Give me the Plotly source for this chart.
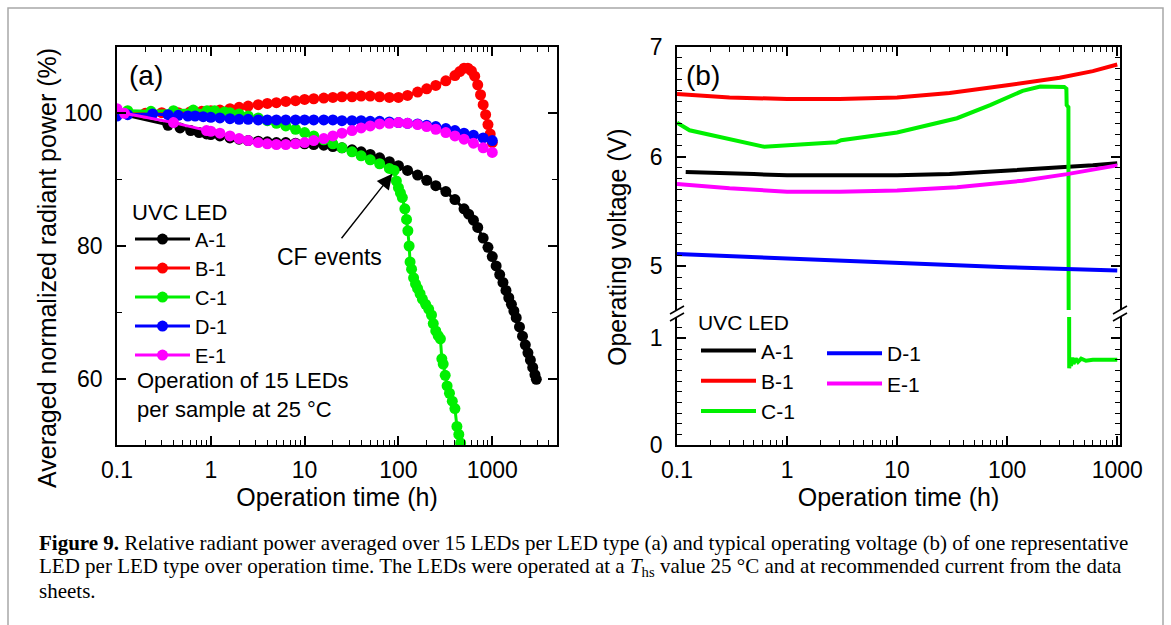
import plotly.graph_objects as go

W, H = 1171, 625
FONT = "Arial, Liberation Sans, sans-serif"
SERIF = "Liberation Serif, Times New Roman, serif"

# ---------------- Panel (a): averaged normalized radiant power (%) ----------------
a_t_A = [0.1, 0.35, 0.47, 0.61, 0.75, 0.9, 1, 1.25, 1.6, 2, 2.5, 3.2, 4, 5, 6.3, 8, 10, 12.5, 16, 20, 25, 32,
         40, 50, 63, 80, 100, 125, 160, 200, 250, 320, 400, 500, 560, 630, 700, 800, 900, 1000, 1100, 1200,
         1300, 1400, 1500, 1600, 1700, 1800, 1950, 2100, 2250, 2400, 2550, 2700, 2850, 2950]
a_v_A = [100.0, 98.2, 97.8, 97.4, 97.1, 96.9, 96.8, 96.6, 96.3, 96.1, 95.9, 95.8, 95.7, 95.6, 95.6, 95.5, 95.4,
         95.3, 95.2, 95.0, 94.8, 94.5, 94.2, 93.8, 93.3, 92.7, 92.1, 91.4, 90.7, 89.9, 89.1, 88.2, 87.0, 85.6,
         84.8, 83.9, 82.8, 81.2, 79.8, 78.4, 77.0, 75.7, 74.5, 73.3, 72.2, 71.2, 70.2, 69.2, 67.8, 66.4, 65.1,
         63.9, 62.8, 61.7, 60.6, 59.9]

a_t_B = [0.1, 0.2, 0.3, 0.45, 0.6, 0.8, 1, 1.25, 1.6, 2, 2.5, 3.2, 4, 5, 6.3, 8, 10, 12.5, 16, 20, 25, 32, 40,
         50, 63, 80, 100, 125, 160, 200, 250, 320, 400, 450, 500, 550, 600, 650, 700, 750, 800, 850, 900,
         950, 1000]
a_v_B = [100.0, 100.0, 100.1, 100.1, 100.2, 100.3, 100.4, 100.5, 100.7, 100.9, 101.1, 101.3, 101.5, 101.6,
         101.8, 101.9, 102.1, 102.2, 102.3, 102.4, 102.5, 102.5, 102.6, 102.6, 102.5, 102.4, 102.4, 102.7,
         103.2, 103.7, 104.2, 104.9, 105.7, 106.3, 106.8, 106.8, 106.4, 105.6, 104.3, 102.8, 101.3, 99.8,
         98.3, 96.9, 95.6]

a_t_C = [0.1, 0.13, 0.23, 0.4, 0.65, 0.91, 1.1, 1.4, 1.6, 2, 2.5, 3.2, 4, 5, 6.3, 8, 10, 12.5, 16, 20, 25, 32,
         40, 50, 63, 80, 90, 95, 100, 105, 110, 117, 122, 126, 130, 133, 138, 145, 152, 160, 170, 180, 195,
         210, 225, 235, 250, 265, 280, 290, 300, 315, 330, 350, 375, 400, 420, 440, 460]
a_v_C = [100.3, 100.4, 100.3, 100.4, 100.5, 100.4, 100.4, 100.2, 100.1, 99.9, 99.6, 99.3, 98.9, 98.5, 98.1,
         97.6, 97.1, 96.6, 96.0, 95.4, 94.8, 94.2, 93.6, 93.0, 92.4, 91.7, 91.4, 89.8, 88.8, 88.0, 87.3, 85.6,
         84.0, 82.3, 80.0, 77.6, 76.5, 75.2, 74.3, 73.6, 72.8, 72.0, 71.2, 70.5, 69.6, 68.3, 67.2, 66.5, 66.0,
         63.0, 62.2, 60.5, 58.9, 57.8, 56.6, 55.5, 52.8, 51.6, 50.3]

a_t_D = [0.1, 0.13, 0.24, 0.35, 0.45, 0.57, 0.68, 0.83, 1, 1.25, 1.6, 2, 2.5, 3.2, 4, 5, 6.3, 8, 10, 12.5,
         16, 20, 25, 32, 40, 50, 63, 80, 100, 125, 160, 200, 250, 320, 400, 500, 630, 800, 1000]
a_v_D = [99.6, 99.8, 99.9, 99.8, 99.7, 99.6, 99.6, 99.5, 99.4, 99.3, 99.2, 99.1, 99.1, 99.0, 99.0, 99.0,
         99.0, 99.0, 99.0, 99.0, 99.0, 99.0, 98.9, 98.9, 98.9, 98.8, 98.8, 98.7, 98.6, 98.5, 98.4, 98.2, 98.0,
         97.7, 97.4, 97.0, 96.7, 96.3, 95.9]

a_t_E = [0.1, 0.12, 0.4, 0.9, 1, 1.25, 1.6, 2, 2.5, 3.2, 4, 5, 6.3, 8, 10, 12.5, 16, 20, 25, 32, 40, 50, 63,
         80, 100, 125, 160, 200, 250, 320, 400, 500, 630, 800, 1000]
a_v_E = [100.7, 100.0, 98.6, 97.4, 97.3, 97.0, 96.6, 96.2, 95.9, 95.6, 95.4, 95.3, 95.3, 95.4, 95.6, 95.9,
         96.2, 96.6, 97.0, 97.4, 97.8, 98.1, 98.4, 98.5, 98.6, 98.5, 98.3, 98.0, 97.6, 97.1, 96.6, 96.1, 95.5,
         94.8, 94.1]

# ---------------- Panel (b): operating voltage (V) ----------------
b_t_A = [0.12, 0.2, 0.5, 1, 3, 10, 30, 70, 150, 350, 600, 1000]
b_v_A = [5.86, 5.85, 5.84, 5.83, 5.83, 5.83, 5.84, 5.86, 5.88, 5.90, 5.92, 5.94]

b_t_B = [0.1, 0.3, 1, 3, 10, 30, 100, 300, 600, 1000]
b_v_B = [6.57, 6.54, 6.525, 6.525, 6.54, 6.58, 6.65, 6.72, 6.78, 6.84]

b_t_C = [0.1, 0.116, 0.13, 0.62, 2.8, 3.1, 10, 35, 70, 138, 200, 330, 345, 347, 360, 366, 372, 380, 390,
         400, 420, 440, 470, 520, 600, 1000]
b_v_C = [6.31, 6.27, 6.24, 6.09, 6.13, 6.15, 6.22, 6.35, 6.47, 6.60, 6.64, 6.635, 6.62, 6.47, 6.45, 0.72,
         0.80, 0.74, 0.82, 0.76, 0.81, 0.78, 0.81, 0.79, 0.80, 0.80]

b_t_D = [0.1, 1, 10, 100, 1000]
b_v_D = [5.11, 5.07, 5.03, 4.99, 4.96]

b_t_E = [0.1, 0.3, 1, 3, 10, 35, 138, 350, 1000]
b_v_E = [5.75, 5.71, 5.68, 5.68, 5.69, 5.72, 5.78, 5.84, 5.92]

names = ["A-1", "B-1", "C-1", "D-1", "E-1"]
colors = ["#000000", "#ff0000", "#00f000", "#0000ff", "#ff00ff"]

caption_lines = [
    "<b>Figure 9.</b> Relative radiant power averaged over 15 LEDs per LED type (a) and typical "
    "operating voltage (b) of one representative",
    "LED per LED type over operation time. The LEDs were operated at a <i>T</i><sub>hs</sub> value "
    "25 °C and at recommended current from the data",
    "sheets.",
]


# ---------------- geometry (pixels -> paper) ----------------
def px(x):
    return x / W


def py(y):
    return 1 - y / H


fig = go.Figure()

a_series = [(a_t_A, a_v_A), (a_t_B, a_v_B), (a_t_C, a_v_C), (a_t_D, a_v_D), (a_t_E, a_v_E)]
for (t, v), n, c in zip(a_series, names, colors):
    fig.add_trace(go.Scatter(x=t, y=v, name=n, mode="lines+markers",
                             line=dict(color=c, width=3), marker=dict(color=c, size=11),
                             xaxis="x", yaxis="y", legend="legend"))

b_series = [(b_t_A, b_v_A), (b_t_B, b_v_B), (b_t_C, b_v_C), (b_t_D, b_v_D), (b_t_E, b_v_E)]
for i, ((t, v), n, c) in enumerate(zip(b_series, names, colors)):
    fig.add_trace(go.Scatter(x=t, y=v, name=n, mode="lines", line=dict(color=c, width=4),
                             xaxis="x3", yaxis="y3", legend="legend2" if i < 3 else "legend3"))
# lower segment of the broken axis (only C-1 reaches it)
fig.add_trace(go.Scatter(x=b_t_C, y=b_v_C, name="C-1", mode="lines", line=dict(color=colors[2], width=4),
                         xaxis="x2", yaxis="y2", showlegend=False))

tickfont = dict(family=FONT, size=23, color="black")
minor_log = dict(ticks="inside", ticklen=5, tickwidth=1.2, tickcolor="black", dtick="D1", showgrid=False)
common_x = dict(type="log", showline=True, linecolor="black", linewidth=1.8, ticks="inside", ticklen=9,
                tickwidth=1.5, tickcolor="black", dtick=1, exponentformat="none", showgrid=False,
                zeroline=False, tickfont=tickfont, ticklabelstandoff=3, automargin=False, minor=minor_log)
common_y = dict(showline=True, linecolor="black", linewidth=1.8, ticks="inside", ticklen=9, tickwidth=1.5,
                tickcolor="black", showgrid=False, zeroline=False, tickfont=tickfont, ticklabelstandoff=8,
                mirror="ticks", automargin=False)


def minor_lin(d):
    return dict(ticks="inside", ticklen=5, tickwidth=1.2, tickcolor="black", dtick=d, showgrid=False)


xtitle = dict(text="Operation time (h)", font=dict(family=FONT, size=25), standoff=2)
legfont_a = dict(family=FONT, size=20)
legfont_b = dict(family=FONT, size=21)

fig.update_layout(
    width=W, height=H, margin=dict(l=0, r=0, t=0, b=0, autoexpand=False),
    paper_bgcolor="white", plot_bgcolor="white", template="none",
    font=dict(family=FONT, color="black"),
    xaxis=dict(common_x, domain=[px(117), px(557)], range=[-1, 3.69], anchor="y", mirror="ticks",
               title=xtitle),
    yaxis=dict(common_y, domain=[py(445), py(47)], range=[50, 110], tick0=0, dtick=20, anchor="x",
               minor=minor_lin(10)),
    xaxis2=dict(common_x, domain=[px(677), px(1120)], range=[-1, 3.025], anchor="y2", side="bottom",
                title=xtitle),
    xaxis3=dict(common_x, domain=[px(677), px(1120)], range=[-1, 3.025], anchor="y3", side="top",
                matches="x2", showticklabels=False),
    yaxis2=dict(common_y, domain=[py(445), py(317)], range=[0, 1.2], tick0=0, dtick=1, anchor="x2",
                minor=minor_lin(0.1)),
    yaxis3=dict(common_y, domain=[py(310), py(47)], range=[4.6, 7], tick0=0, dtick=1, anchor="x3",
                minor=minor_lin(0.1)),
    legend=dict(x=px(130), y=py(191), xanchor="left", yanchor="top", bgcolor="rgba(0,0,0,0)",
                title=dict(text="UVC LED", font=dict(family=FONT, size=22)), font=legfont_a, itemwidth=55,
                traceorder="normal"),
    legend2=dict(x=px(696), y=py(303), xanchor="left", yanchor="top", bgcolor="rgba(0,0,0,0)",
                 title=dict(text="UVC LED", font=legfont_b), font=legfont_b, itemwidth=55,
                 traceorder="normal"),
    legend3=dict(x=px(822), y=py(333), xanchor="left", yanchor="top", bgcolor="rgba(0,0,0,0)",
                 font=legfont_b, itemwidth=55, traceorder="normal"),
)

C = dict(xref="paper", yref="paper", xanchor="center", yanchor="middle", showarrow=False)
ann = []
ann.append(dict(C, text="(a)", x=px(146), y=py(75), font=dict(family=FONT, size=28)))
ann.append(dict(C, text="(b)", x=px(703), y=py(75), font=dict(family=FONT, size=28)))
ann.append(dict(text="Operation of 15 LEDs<br>per sample at 25 °C", x=px(135), y=py(395), xref="paper",
                yref="paper", xanchor="left", yanchor="middle", align="left", showarrow=False,
                font=dict(family=FONT, size=22)))
ann.append(dict(C, text="CF events", x=px(329), y=py(257), font=dict(family=FONT, size=23)))
# arrow pointing at the onset of the CF events on C-1
ann.append(dict(text="", x=1.935, y=90.9, xref="x", yref="y", showarrow=True, ax=-52, ay=66,
                arrowhead=2, arrowsize=2.2, arrowwidth=1.4, arrowcolor="black"))
ann.append(dict(C, text="Averaged normalized radiant power (%)", x=px(47), y=py(268), textangle=-90,
                font=dict(family=FONT, size=25)))
ann.append(dict(C, text="Operating voltage (V)", x=px(617), y=py(247), textangle=-90,
                font=dict(family=FONT, size=25)))
for k, line in enumerate(caption_lines):
    ann.append(dict(text=line, x=px(37), y=py(543 + 24 * k), xref="paper", yref="paper", xanchor="left",
                    yanchor="middle", align="left", showarrow=False,
                    font=dict(family=SERIF, size=21, color="black")))
fig.update_layout(annotations=ann)

shapes = []
# figure frame
shapes.append(dict(type="rect", xref="paper", yref="paper", x0=px(8), x1=px(1163), y0=-0.05, y1=py(8),
                   line=dict(color="#a8a8a8", width=1.5)))
# axis-break marks
for xb in (677, 1120):
    for yb in (310, 317):
        shapes.append(dict(type="line", xref="paper", yref="paper", x0=px(xb - 7), y0=py(yb + 4),
                           x1=px(xb + 7), y1=py(yb - 4), line=dict(color="black", width=1.6)))
fig.update_layout(shapes=shapes)

fig.write_html("out.html")
